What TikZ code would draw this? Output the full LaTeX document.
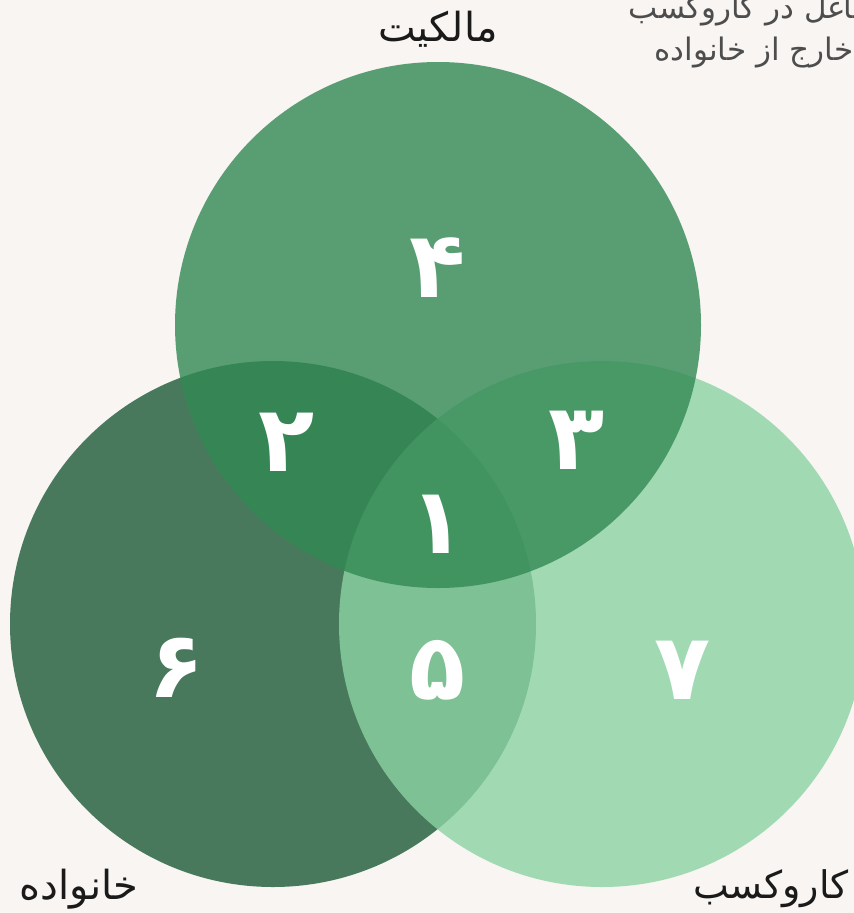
\documentclass[tikz,border=0pt]{standalone}
\usepackage{fontspec}
\newfontfamily\arabicfont[Script=Arabic]{DejaVu Sans}
\TeXXeTstate=1
\usepackage{xcolor}
\definecolor{cBg}{HTML}{F8F5F2}
\definecolor{cOwner}{HTML}{328954}
\definecolor{cFamily}{HTML}{1E5B37}
\definecolor{cBiz}{HTML}{8AD3A3}
\definecolor{cText}{HTML}{1A1A1A}
\definecolor{cNote}{HTML}{4D4D4D}
\usepackage{tikz}
\usetikzlibrary{positioning}
\tikzset{
  set-circle/.style={circle,inner sep=0pt,minimum size=526pt,fill opacity=0.8},
  set-label/.style={font=\arabicfont\fontsize{40}{44}\selectfont,text=cText,inner sep=0pt},
  note-text/.style={font=\arabicfont\fontsize{31}{36}\selectfont,text=cNote,inner sep=0pt},
  region-num/.style={font=\arabicfont\bfseries\fontsize{92}{92}\selectfont,text=white,inner sep=0pt},
}

\begin{document}
\begin{tikzpicture}[x=1pt,y=-1pt]
  \fill[cBg] (0,0) rectangle (854,913);
  \useasboundingbox (0,0) rectangle (854,913);
  \clip (0,0) rectangle (854,913);
  % three sets, drawn family -> business -> ownership
  \node[set-circle,fill=cFamily] (family) at (273,624) {};
  \node[set-circle,fill=cBiz] (biz) at (602,624) {};
  \node[set-circle,fill=cOwner] (owner) at (438,325) {};
  % set names
  \node[set-label] (owner-name) at (438,29) {\beginR مالکیت\endR};
  \node[set-label] (family-name) at (79,889) {\beginR خانواده\endR};
  \node[set-label,font=\arabicfont\fontsize{38}{42}\selectfont] (biz-name) at (771,889) {\beginR کاروکسب\endR};
  \node[note-text] (note-a) at (754,11) {\beginR شاغل در کاروکسب\endR};
  \node[note-text] (note-b) at (754,53) {\beginR خارج از خانواده\endR};
  % region numbers
  \foreach \name/\x/\y/\num in {r4/438/268/۴, r2/287/442/۲, r3/577/440/۳,
      r1/438/524/۱, r6/177/668/۶, r5/438/670/۵, r7/683/670/۷} {
    \node[region-num] (\name) at (\x,\y) {\num};
  }
\end{tikzpicture}
\end{document}
